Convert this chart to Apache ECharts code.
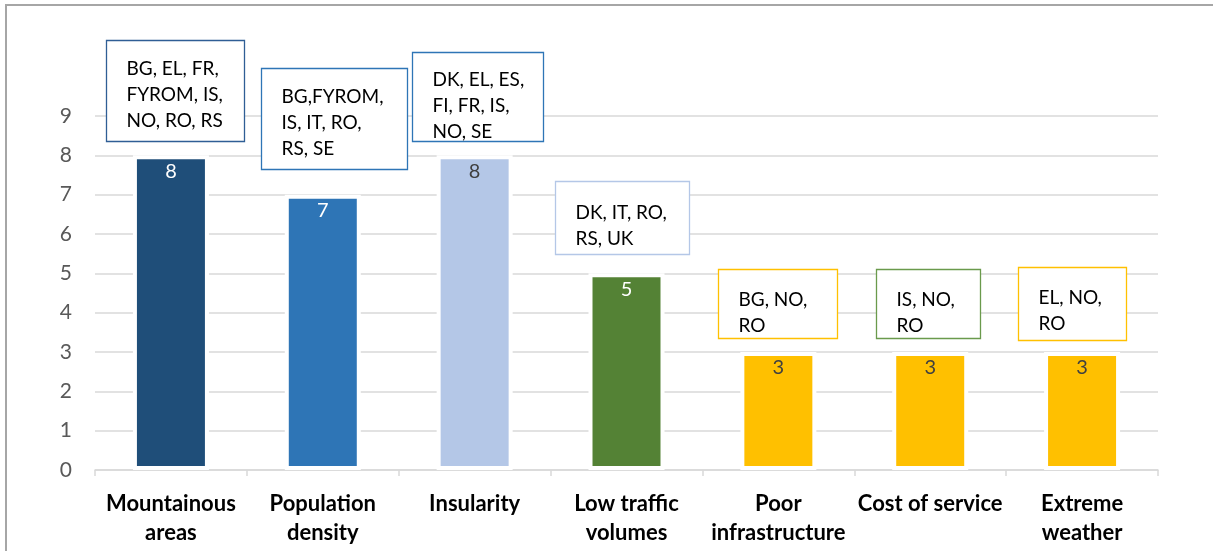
<!DOCTYPE html>
<html>
<head>
<meta charset="utf-8">
<script src="https://cdn.jsdelivr.net/npm/echarts@6/dist/echarts.min.js"></script>
<style>
  html, body { margin: 0; padding: 0; background: #fff; }
  #chart { width: 1213px; height: 551px; }
</style>
</head>
<body>
<div id="chart"></div>
<script>
// Categories of territorial challenges and how many countries report each
const categories = ['Mountainous\nareas', 'Population\ndensity', 'Insularity', 'Low traffic\nvolumes', 'Poor\ninfrastructure', 'Cost of service', 'Extreme\nweather'];
const countryCounts = [8, 7, 8, 5, 3, 3, 3];
const countryLists = [
  'BG, EL, FR,\nFYROM, IS,\nNO, RO, RS',
  'BG,FYROM,\nIS, IT, RO,\nRS, SE',
  'DK, EL, ES,\nFI, FR, IS,\nNO, SE',
  'DK, IT, RO,\nRS, UK',
  'BG, NO,\nRO',
  'IS, NO,\nRO',
  'EL, NO,\nRO'
];
const yTicks = [0, 1, 2, 3, 4, 5, 6, 7, 8, 9];

// Styling for each bar and its country box
const barColors = ['#1F4E79', '#2E75B6', '#B4C7E7', '#548235', '#FFC000', '#FFC000', '#FFC000'];
const valueColors = ['#ffffff', '#ffffff', '#404040', '#ffffff', '#404040', '#404040', '#404040'];
const boxStyles = [
  { border: '#2F5E95', w: 138, h: 101, gap: 14, dx: 4, padTop: 15 },
  { border: '#2E75B6', w: 146, h: 101, gap: 26, dx: 11, padTop: 15 },
  { border: '#2E75B6', w: 131, h: 89, gap: 14, dx: 3, padTop: 14 },
  { border: '#B4C7E7', w: 134, h: 73, gap: 19, dx: -5, padTop: 18 },
  { border: '#FFC000', w: 119, h: 69, gap: 14, dx: -1, padTop: 17 },
  { border: '#6A9A4C', w: 104, h: 69, gap: 14, dx: -2, padTop: 17 },
  { border: '#FFC000', w: 108, h: 73, gap: 12, dx: -10, padTop: 17 }
];

const FONT = 'Lato, "Open Sans", sans-serif';

const chart = echarts.init(document.getElementById('chart'), null, { renderer: 'canvas' });

const barData = countryCounts.map((v, i) => ({
  value: v,
  itemStyle: { color: barColors[i] },
  label: { color: valueColors[i] }
}));

// Country boxes sit above each bar, anchored to the bar's value
function renderCountryBox(params, api) {
  const i = api.value(0);
  const pt = api.coord([i, api.value(1)]);
  const s = boxStyles[i];
  const x = Math.round(pt[0] - s.w / 2 + s.dx) + 0.5;
  const y = Math.round(pt[1] - s.gap - s.h) + 0.5;
  return {
    type: 'group',
    children: [
      {
        type: 'rect',
        shape: { x: x, y: y, width: s.w, height: s.h },
        style: { fill: '#ffffff', stroke: s.border, lineWidth: 1.3 }
      },
      {
        type: 'text',
        x: x + 20,
        y: y + s.padTop,
        style: {
          text: countryLists[i],
          fontFamily: FONT,
          fontSize: 19,
          lineHeight: 26,
          fill: '#000000',
          align: 'left',
          verticalAlign: 'top'
        }
      }
    ]
  };
}

chart.setOption({
  animation: false,
  backgroundColor: '#ffffff',
  graphic: [{
    type: 'rect',
    shape: { x: 6, y: 5, width: 1230, height: 570 },
    style: { fill: 'none', stroke: '#A6A6A6', lineWidth: 2 },
    silent: true,
    z: 100
  }],
  grid: { left: 95, right: 55, top: 116, bottom: 81 },
  xAxis: {
    type: 'category',
    data: categories,
    axisLine: { lineStyle: { color: '#D9D9D9', width: 1.5 } },
    axisTick: { show: true, alignWithLabel: false, length: 6, lineStyle: { color: '#D9D9D9', width: 1.5 } },
    axisLabel: {
      interval: 0,
      margin: 19,
      fontFamily: FONT,
      fontWeight: 'bold',
      fontSize: 22,
      lineHeight: 29,
      color: '#000000'
    }
  },
  yAxis: {
    type: 'value',
    min: yTicks[0],
    max: yTicks[yTicks.length - 1],
    interval: 1,
    axisLine: { show: false },
    axisTick: { show: false },
    splitLine: { lineStyle: { color: '#D9D9D9', width: 1.5 } },
    axisLabel: {
      margin: 23,
      fontFamily: FONT,
      fontSize: 21,
      color: '#595959'
    }
  },
  series: [
    {
      type: 'bar',
      data: barData,
      barWidth: 76,
      itemStyle: { borderColor: '#ffffff', borderWidth: 4 },
      label: {
        show: true,
        position: 'insideTop',
        distance: 6,
        fontFamily: FONT,
        fontSize: 20
      },
      z: 2
    },
    {
      type: 'custom',
      data: countryCounts.map((v, i) => [i, v]),
      renderItem: renderCountryBox,
      silent: true,
      clip: false,
      z: 5
    }
  ]
});
</script>
</body>
</html>
